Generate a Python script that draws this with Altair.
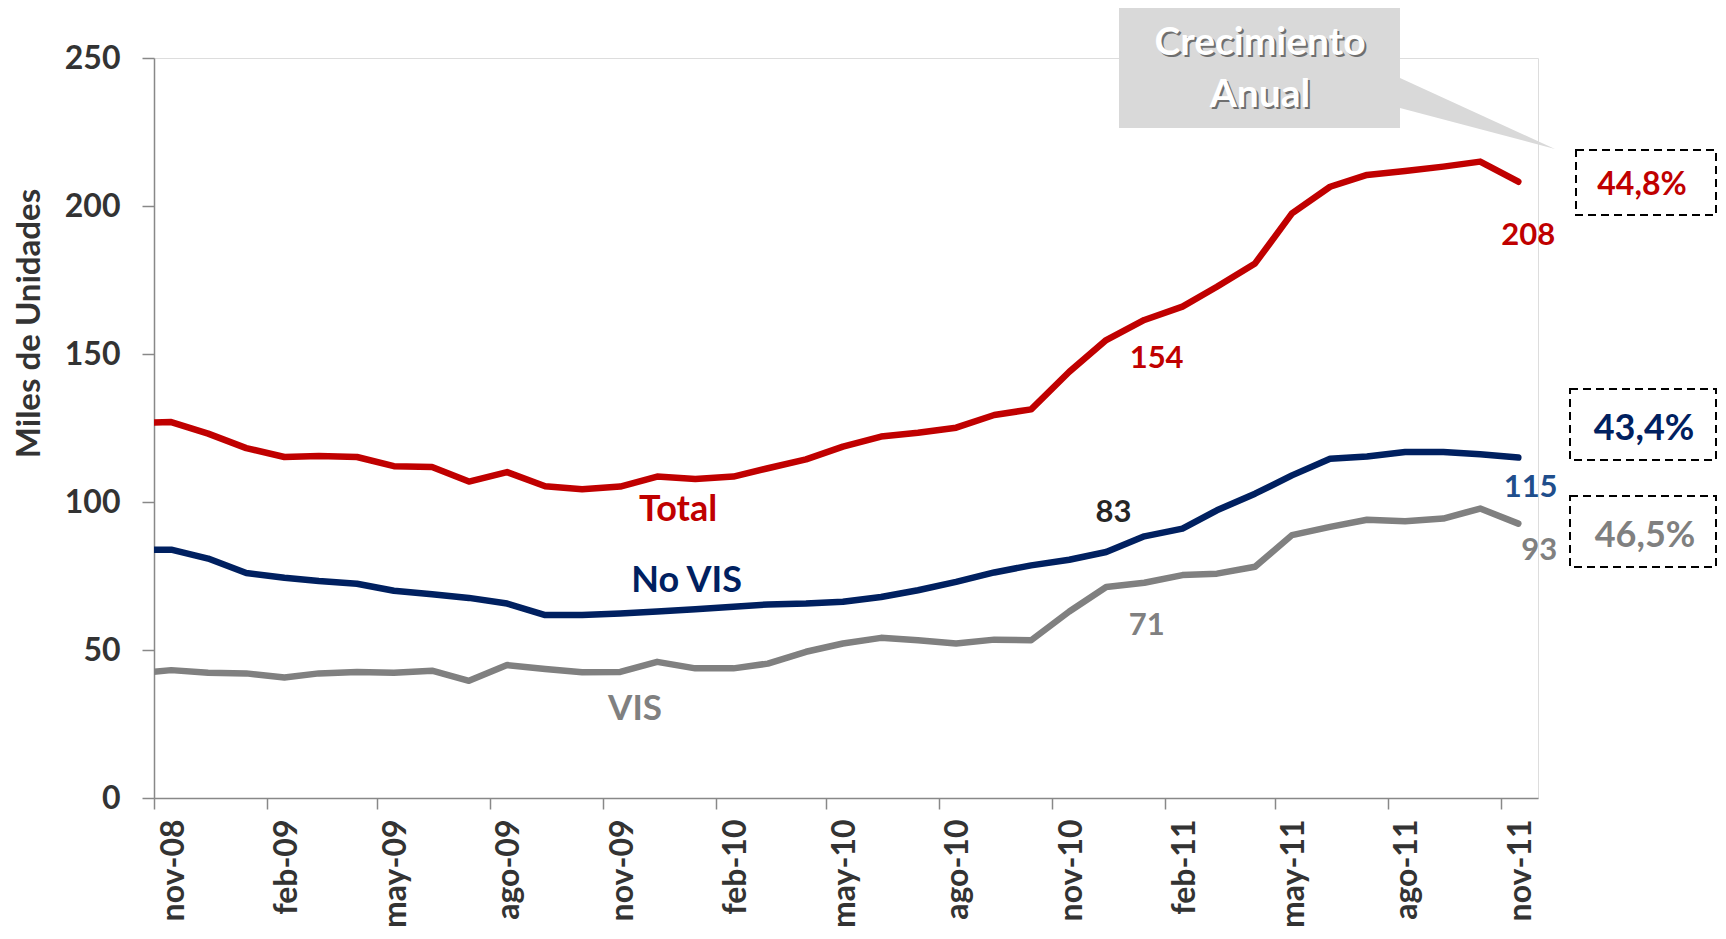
import altair as alt
import pandas as pd

# ---- data, monthly, oct-08 .. nov-11 ----
month_starts = pd.date_range("2008-10-01", "2011-11-01", freq="MS")
fechas = [(d + pd.Timedelta(days=14)).strftime("%Y-%m-%d") for d in month_starts]

total = [126.6, 127.0, 123.1, 118.2, 115.2, 115.5, 115.2, 112.1, 111.8, 106.9,
         110.1, 105.3, 104.3, 105.2, 108.6, 107.8, 108.6, 111.4, 114.4, 118.7,
         122.1, 123.4, 125.1, 129.4, 131.3, 144.0, 154.7, 161.5, 166.0, 172.7,
         180.6, 197.5, 206.5, 210.5, 211.8, 213.3, 215.0, 208.2]
no_vis = [83.9, 83.9, 80.9, 76.0, 74.4, 73.3, 72.4, 70.0, 68.8, 67.6,
          65.7, 61.8, 61.8, 62.3, 63.0, 63.8, 64.6, 65.4, 65.7, 66.3,
          67.9, 70.2, 73.0, 76.2, 78.6, 80.5, 83.1, 88.4, 91.0, 97.2,
          102.8, 109.0, 114.6, 115.4, 116.9, 116.9, 116.1, 115.0]
vis = [42.0, 43.2, 42.3, 42.1, 40.7, 42.1, 42.6, 42.3, 43.0, 39.6,
       44.9, 43.6, 42.5, 42.6, 46.0, 43.8, 43.8, 45.4, 49.4, 52.2,
       54.1, 53.3, 52.2, 53.5, 53.3, 63.0, 71.3, 72.7, 75.3, 75.8,
       78.1, 88.8, 91.6, 94.0, 93.5, 94.4, 97.8, 92.7]

series_names = ["Total", "No VIS", "VIS"]
series_colors = ["#C00000", "#002060", "#808080"]

# in-chart labels (text, date, value, colour, font size)
ann_text = ["Total", "No VIS", "VIS", "154", "83", "71", "208", "115", "93"]
ann_date = ["2010-01-01", "2010-01-08", "2009-11-27", "2011-01-25", "2010-12-21",
            "2011-01-17", "2011-11-23", "2011-11-25", "2011-12-02"]
ann_value = [93.6, 69.6, 26.4, 145.3, 93.3, 55.1, 186.8, 101.8, 80.4]
ann_color = ["#C00000", "#002060", "#808080", "#C00000", "#262626", "#808080",
             "#C00000", "#1F4E8C", "#808080"]
ann_size = [36, 36, 35, 31, 31, 31, 31, 31, 31]

growth_text = ["44,8%", "43,4%", "46,5%"]
growth_color = ["#C00000", "#002060", "#808080"]

month_abbr = ["ene", "feb", "mar", "abr", "may", "jun", "jul", "ago", "sep", "oct", "nov", "dic"]

# ---- tables ----
df = pd.DataFrame({
    "fecha": fechas * 3,
    "valor": total + no_vis + vis,
    "serie": [series_names[0]] * len(fechas) + [series_names[1]] * len(fechas) + [series_names[2]] * len(fechas),
})
ann = pd.DataFrame({"texto": ann_text, "fecha": ann_date, "valor": ann_value,
                    "color": ann_color, "tam": ann_size})

FONT = "Lato"
AXIS_GRAY = "#888888"

tick_dates = []
for y in range(2008, 2012):
    for m in (2, 5, 8, 11):
        if (y == 2008 and m < 11):
            continue
        tick_dates.append(alt.DateTime(year=y, month=m, date=1, utc=True))

label_expr = ("[" + ",".join("'%s'" % a for a in month_abbr) + "][utcmonth(datum.value)]"
              " + '-' + utcFormat(datum.value, '%y')")

x_enc = alt.X(
    "fecha:T",
    scale=alt.Scale(type="utc",
                    domain=[alt.DateTime(year=2008, month=11, date=1, utc=True),
                            alt.DateTime(year=2011, month=12, date=1, utc=True)]),
    axis=alt.Axis(values=tick_dates, labelExpr=label_expr, labelAngle=270,
                  labelFont=FONT, labelFontSize=32, labelFontWeight="bold",
                  labelColor="#333333", labelPadding=10, labelOffset=19,
                  tickSize=11, tickColor=AXIS_GRAY, tickWidth=1.5,
                  domainColor=AXIS_GRAY, domainWidth=1.5, grid=False,
                  title=None, labelOverlap=False),
)
y_enc = alt.Y(
    "valor:Q",
    scale=alt.Scale(domain=[0, 250], nice=False),
    axis=alt.Axis(values=[0, 50, 100, 150, 200, 250], labelFont=FONT, labelFontSize=32,
                  labelFontWeight="bold", labelColor="#333333", labelPadding=22,
                  tickSize=12, tickColor=AXIS_GRAY, tickWidth=1.5,
                  domainColor=AXIS_GRAY, domainWidth=1.5, grid=False,
                  title="Miles de Unidades", titleFont=FONT, titleFontSize=33,
                  titleFontWeight="bold", titleColor="#333333", titleAngle=270,
                  titleX=-125, titleY=265, titleBaseline="middle", titleAlign="center"),
)

lines = alt.Chart(df).mark_line(strokeWidth=6.5, clip=True, strokeJoin="round", strokeCap="round").encode(
    x=x_enc, y=y_enc,
    color=alt.Color("serie:N", scale=alt.Scale(domain=series_names, range=series_colors), legend=None),
)

labels = alt.Chart(ann).mark_text(font=FONT, fontWeight="bold", align="center", baseline="alphabetic").encode(
    x="fecha:T", y="valor:Q", text="texto:N",
    color=alt.Color("color:N", scale=None),
    size=alt.Size("tam:Q", scale=None),
)

# growth boxes (outside the plot, pixel positions)
def dashed_box(x1, x2, y1, y2):
    return alt.Chart().mark_rect(fill="white", fillOpacity=0, stroke="black", strokeWidth=2,
                                 strokeDash=[8, 5]).encode(
        x=alt.value(x1), x2=alt.value(x2), y=alt.value(y1), y2=alt.value(y2))

def label_at(text, x, y, color, size, **kw):
    return alt.Chart().mark_text(text=text, font=FONT, fontWeight="bold", fontSize=size, color=color,
                                 align="center", baseline="alphabetic", **kw).encode(
        x=alt.value(x), y=alt.value(y))

boxes = [
    dashed_box(1422, 1562, 92, 157), label_at(growth_text[0], 1488, 137, growth_color[0], 32),
    dashed_box(1416, 1562, 331, 402), label_at(growth_text[1], 1490, 382, growth_color[1], 36),
    dashed_box(1416, 1562, 438, 509), label_at(growth_text[2], 1491, 489, growth_color[2], 36),
]

# callout "Crecimiento Anual"
callout_box = alt.Chart().mark_rect(fill="#D9D9D9").encode(
    x=alt.value(965), x2=alt.value(1246), y=alt.value(-60), y2=alt.value(70))
pointer = alt.Chart().mark_point(shape="M-1,-0.458 L1,0.458 L-1,-0.071 Z", size=24025,
                                 filled=True, fill="#D9D9D9", opacity=1, strokeWidth=0).encode(
    x=alt.value(1323.5), y=alt.value(55.5))
callout_texts = [
    label_at("Crecimiento", 1108, -1, "#6F6F6F", 39),
    label_at("Anual", 1108, 51, "#6F6F6F", 39),
    label_at("Crecimiento", 1106, -3, "#FFFFFF", 39),
    label_at("Anual", 1106, 49, "#FFFFFF", 39),
]

chart = alt.layer(lines, labels, callout_box, pointer, *callout_texts, *boxes).properties(
    width=1384, height=740,
    autosize=alt.AutoSizeParams(type="none"),
    padding={"left": 146, "top": 50, "right": 180, "bottom": 133},
).configure_view(stroke=None).configure(background="white")

chart.save("out.html", embed_options={"renderer": "svg", "actions": False})
